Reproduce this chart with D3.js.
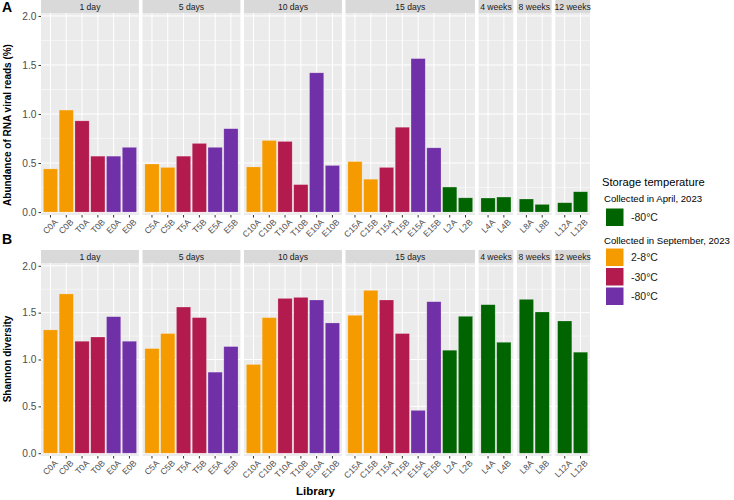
<!DOCTYPE html>
<html>
<head>
<meta charset="utf-8">
<script src="https://cdn.jsdelivr.net/npm/d3@7"></script>
<style>
  body { margin: 0; background: #fff; }
  svg { font-family: "Liberation Sans", Arial, Helvetica, sans-serif; }
</style>
</head>
<body>
<div id="chart"></div>
<script>
// Data
const timepoints = ["1 day", "5 days", "10 days", "15 days", "4 weeks", "8 weeks", "12 weeks"];

const libraries = [
  "C0A", "C0B", "T0A", "T0B", "E0A", "E0B",
  "C5A", "C5B", "T5A", "T5B", "E5A", "E5B",
  "C10A", "C10B", "T10A", "T10B", "E10A", "E10B",
  "C15A", "C15B", "T15A", "T15B", "E15A", "E15B", "L2A", "L2B",
  "L4A", "L4B",
  "L8A", "L8B",
  "L12A", "L12B"
];

const libTimepoint = [
  "1 day", "1 day", "1 day", "1 day", "1 day", "1 day",
  "5 days", "5 days", "5 days", "5 days", "5 days", "5 days",
  "10 days", "10 days", "10 days", "10 days", "10 days", "10 days",
  "15 days", "15 days", "15 days", "15 days", "15 days", "15 days", "15 days", "15 days",
  "4 weeks", "4 weeks",
  "8 weeks", "8 weeks",
  "12 weeks", "12 weeks"
];

const libStorage = [
  "sep28", "sep28", "sep30", "sep30", "sep80", "sep80",
  "sep28", "sep28", "sep30", "sep30", "sep80", "sep80",
  "sep28", "sep28", "sep30", "sep30", "sep80", "sep80",
  "sep28", "sep28", "sep30", "sep30", "sep80", "sep80", "apr80", "apr80",
  "apr80", "apr80",
  "apr80", "apr80",
  "apr80", "apr80"
];

const abundance = [
  0.44, 1.04, 0.93, 0.57, 0.57, 0.66,
  0.49, 0.455, 0.57, 0.70, 0.66, 0.85,
  0.46, 0.73, 0.72, 0.28, 1.42, 0.475,
  0.515, 0.335, 0.455, 0.865, 1.565, 0.655, 0.255, 0.145,
  0.143, 0.153,
  0.133, 0.078,
  0.095, 0.207
];

const shannon = [
  1.316, 1.70, 1.195, 1.24, 1.457, 1.195,
  1.117, 1.277, 1.56, 1.447, 0.865, 1.138,
  0.947, 1.447, 1.652, 1.663, 1.635, 1.39,
  1.472, 1.738, 1.635, 1.277, 0.457, 1.617, 1.099, 1.461,
  1.585, 1.184,
  1.642, 1.507,
  1.411, 1.078
];

const yTicks = [0, 0.5, 1.0, 1.5, 2.0];

const storageKeys = ["apr80", "sep28", "sep30", "sep80"];
const storageLabels = ["-80°C", "2-8°C", "-30°C", "-80°C"];
const storageColors = ["#006400", "#F59B00", "#B31A4E", "#7030A8"];

const rows = libraries.map((lib, i) => ({
  lib, tp: libTimepoint[i], storage: libStorage[i], abundance: abundance[i], shannon: shannon[i]
}));

const width = 734, height = 500;
const svg = d3.select("#chart").append("svg")
  .attr("width", width).attr("height", height);

const color = d3.scaleOrdinal().domain(storageKeys).range(storageColors);

// facet layout (free x, space proportional to bar count)
const plotLeft = 41, plotRight = 590, gap = 3.6;
const counts = timepoints.map(t => rows.filter(d => d.tp === t).length);
const totalUnits = d3.sum(counts, n => n + 0.2);
const unit = (plotRight - plotLeft - gap * (timepoints.length - 1)) / totalUnits;

const facets = [];
let cx = plotLeft;
timepoints.forEach((t, i) => {
  const w = (counts[i] + 0.2) * unit;
  const libs = rows.filter(d => d.tp === t).map(d => d.lib);
  facets.push({
    tp: t,
    x0: cx,
    w,
    scale: d3.scaleBand().domain(libs).range([cx, cx + w]).paddingInner(0.1).paddingOuter(0.15)
  });
  cx += w + gap;
});

function drawPanel(opts) {
  const { stripTop, panelTop, panelBottom, key, title, titleY, letter, letterY } = opts;
  const y = d3.scaleLinear().domain([-0.03, 2.03]).range([panelBottom, panelTop]);
  const g = svg.append("g");

  facets.forEach(f => {
    // strip
    g.append("rect")
      .attr("x", f.x0).attr("y", stripTop)
      .attr("width", f.w).attr("height", panelTop - stripTop)
      .attr("fill", "#D9D9D9");
    g.append("text")
      .attr("x", f.x0 + f.w / 2).attr("y", stripTop + (panelTop - stripTop) / 2 + 3.2)
      .attr("text-anchor", "middle")
      .attr("font-size", 8.6).attr("fill", "#1a1a1a")
      .text(f.tp);

    // panel background
    g.append("rect")
      .attr("x", f.x0).attr("y", panelTop)
      .attr("width", f.w).attr("height", panelBottom - panelTop)
      .attr("fill", "#EBEBEB");

    // minor grid
    g.selectAll(null).data([0.25, 0.75, 1.25, 1.75]).join("line")
      .attr("x1", f.x0).attr("x2", f.x0 + f.w)
      .attr("y1", d => y(d)).attr("y2", d => y(d))
      .attr("stroke", "#fff").attr("stroke-width", 0.5);
    // major grid
    g.selectAll(null).data(yTicks).join("line")
      .attr("x1", f.x0).attr("x2", f.x0 + f.w)
      .attr("y1", d => y(d)).attr("y2", d => y(d))
      .attr("stroke", "#fff").attr("stroke-width", 1);
    g.selectAll(null).data(f.scale.domain()).join("line")
      .attr("x1", d => f.scale(d) + f.scale.bandwidth() / 2)
      .attr("x2", d => f.scale(d) + f.scale.bandwidth() / 2)
      .attr("y1", panelTop).attr("y2", panelBottom)
      .attr("stroke", "#fff").attr("stroke-width", 1);

    // bars
    g.selectAll(null).data(rows.filter(d => d.tp === f.tp)).join("rect")
      .attr("x", d => f.scale(d.lib))
      .attr("width", f.scale.bandwidth())
      .attr("y", d => y(d[key]))
      .attr("height", d => y(0) - y(d[key]))
      .attr("fill", d => color(d.storage))
      .attr("stroke", "rgba(255,255,255,0.35)")
      .attr("stroke-width", 0.6);

    // x axis
    const ax = g.append("g")
      .attr("transform", `translate(0,${panelBottom})`)
      .call(d3.axisBottom(f.scale).tickSize(2.5).tickSizeOuter(0).tickPadding(2));
    ax.select(".domain").remove();
    ax.selectAll(".tick line").attr("stroke", "#333");
    ax.selectAll(".tick text")
      .attr("font-size", 8.6).attr("fill", "#4d4d4d")
      .attr("font-family", null)
      .attr("text-anchor", "end")
      .attr("dy", "0.5em").attr("dx", "0.25em")
      .attr("transform", "translate(0,3) rotate(-45)");
  });

  // y axis
  const ay = g.append("g")
    .attr("transform", `translate(${plotLeft},0)`)
    .call(d3.axisLeft(y).tickValues(yTicks).tickFormat(d3.format(".1f")).tickSize(2.5).tickPadding(2));
  ay.select(".domain").remove();
  ay.selectAll(".tick line").attr("stroke", "#333");
  ay.selectAll(".tick text").attr("font-size", 10.2).attr("fill", "#4d4d4d").attr("font-family", null);

  // axis title
  g.append("text")
    .attr("transform", `translate(10.5,${titleY}) rotate(-90)`)
    .attr("text-anchor", "middle")
    .attr("font-size", 10).attr("font-weight", "bold").attr("fill", "#000")
    .text(title);

  // panel letter
  g.append("text")
    .attr("x", 2).attr("y", letterY)
    .attr("font-size", 14).attr("font-weight", "bold")
    .text(letter);
}

drawPanel({
  stripTop: 0, panelTop: 13, panelBottom: 215, key: "abundance",
  title: "Abundance of RNA viral reads (%)", titleY: 125, letter: "A", letterY: 12
});
drawPanel({
  stripTop: 250, panelTop: 263, panelBottom: 456, key: "shannon",
  title: "Shannon diversity", titleY: 359, letter: "B", letterY: 244
});

svg.append("text")
  .attr("x", (plotLeft + plotRight) / 2).attr("y", 495)
  .attr("text-anchor", "middle")
  .attr("font-size", 11.5).attr("font-weight", "bold")
  .text("Library");

// legend
const lg = svg.append("g");
lg.append("text").attr("x", 602).attr("y", 186)
  .attr("font-size", 11.2).attr("fill", "#000").text("Storage temperature");

const legendGroups = [
  { title: "Collected in April, 2023", titleY: 202, keys: ["apr80"], top: 208.5 },
  { title: "Collected in September, 2023", titleY: 244, keys: ["sep28", "sep30", "sep80"], top: 248.5 }
];
legendGroups.forEach(grp => {
  lg.append("text").attr("x", 604).attr("y", grp.titleY)
    .attr("font-size", 9.6).attr("fill", "#000").text(grp.title);
  grp.keys.forEach((k, i) => {
    const ky = grp.top + i * 19.5;
    lg.append("rect").attr("x", 606).attr("y", ky)
      .attr("width", 17.5).attr("height", 17.5)
      .attr("fill", color(k));
    lg.append("text").attr("x", 631).attr("y", ky + 12.5)
      .attr("font-size", 10.5).attr("fill", "#1a1a1a")
      .text(storageLabels[storageKeys.indexOf(k)]);
  });
});
</script>
</body>
</html>
